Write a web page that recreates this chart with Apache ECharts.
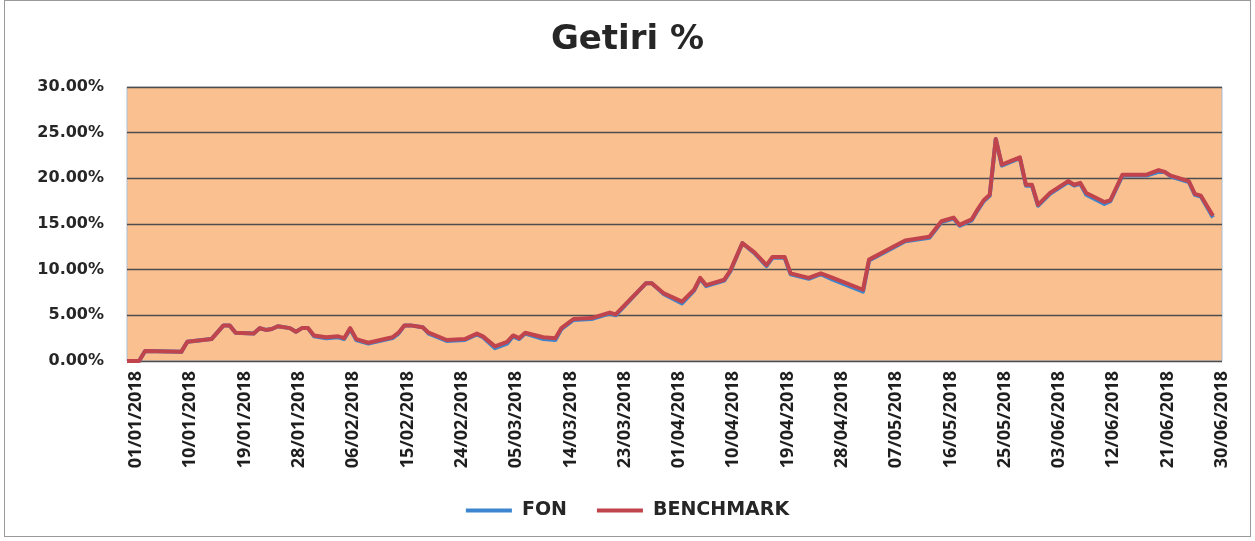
<!DOCTYPE html>
<html>
<head>
<meta charset="utf-8">
<script src="https://cdn.jsdelivr.net/npm/echarts@6/dist/echarts.min.js"></script>
<style>
html,body{margin:0;padding:0;background:#fff;}
#wrap{position:relative;width:1255px;height:541px;}
#chart{position:absolute;left:0;top:0;width:1255px;height:541px;}
#frame{position:absolute;left:4px;top:0px;width:1245px;height:535px;border:1.5px solid #9a9a9a;pointer-events:none;}
</style>
</head>
<body>
<div id="wrap"><div id="chart"></div><div id="frame"></div></div>
<script>
// Read points (dates) and values in percent
var dates = ['01/01/2018','03/01/2018','04/01/2018','10/01/2018','11/01/2018','15/01/2018','17/01/2018','18/01/2018','19/01/2018','22/01/2018','23/01/2018','24/01/2018','25/01/2018','26/01/2018','28/01/2018','29/01/2018','30/01/2018','31/01/2018','01/02/2018','03/02/2018','05/02/2018','06/02/2018','07/02/2018','08/02/2018','10/02/2018','12/02/2018','14/02/2018','15/02/2018','16/02/2018','17/02/2018','19/02/2018','20/02/2018','23/02/2018','26/02/2018','28/02/2018','01/03/2018','03/03/2018','05/03/2018','06/03/2018','07/03/2018','08/03/2018','11/03/2018','13/03/2018','14/03/2018','16/03/2018','19/03/2018','22/03/2018','23/03/2018','28/03/2018','29/03/2018','31/03/2018','03/04/2018','05/04/2018','06/04/2018','07/04/2018','10/04/2018','11/04/2018','13/04/2018','15/04/2018','17/04/2018','18/04/2018','20/04/2018','21/04/2018','24/04/2018','26/04/2018','28/04/2018','03/05/2018','04/05/2018','08/05/2018','10/05/2018','14/05/2018','16/05/2018','18/05/2018','19/05/2018','21/05/2018','22/05/2018','23/05/2018','24/05/2018','25/05/2018','26/05/2018','29/05/2018','30/05/2018','31/05/2018','01/06/2018','03/06/2018','06/06/2018','07/06/2018','08/06/2018','09/06/2018','12/06/2018','13/06/2018','15/06/2018','19/06/2018','21/06/2018','22/06/2018','23/06/2018','26/06/2018','27/06/2018','28/06/2018','30/06/2018'];
var benchmark = [0.0,0.0,1.1,1.0,2.1,2.4,3.9,3.9,3.1,3.0,3.6,3.4,3.5,3.8,3.6,3.2,3.6,3.6,2.8,2.6,2.7,2.5,3.6,2.4,2.0,2.3,2.6,3.1,3.9,3.9,3.7,3.1,2.3,2.4,3.0,2.7,1.6,2.1,2.8,2.5,3.1,2.6,2.5,3.6,4.6,4.7,5.3,5.1,8.5,8.5,7.4,6.5,7.8,9.1,8.3,8.9,9.9,12.9,11.9,10.5,11.4,11.4,9.6,9.1,9.6,9.1,7.8,11.1,12.5,13.2,13.6,15.3,15.7,14.9,15.5,16.6,17.6,18.2,24.3,21.5,22.3,19.3,19.3,17.1,18.4,19.7,19.3,19.5,18.4,17.4,17.6,20.4,20.4,20.9,20.7,20.3,19.7,18.3,18.1,15.9];
var fon = [0.0,0.0,1.1,1.0,2.1,2.4,3.9,3.9,3.1,3.0,3.6,3.4,3.5,3.8,3.6,3.2,3.6,3.6,2.7,2.5,2.6,2.4,3.5,2.3,1.9,2.2,2.5,3.0,3.9,3.9,3.7,3.0,2.2,2.3,2.9,2.6,1.4,1.9,2.7,2.4,3.0,2.4,2.3,3.5,4.5,4.6,5.2,5.0,8.5,8.5,7.3,6.3,7.7,9.0,8.2,8.8,9.8,12.9,11.8,10.4,11.3,11.3,9.5,9.0,9.5,8.9,7.6,11.0,12.4,13.1,13.5,15.2,15.6,14.8,15.4,16.5,17.5,18.1,24.3,21.4,22.2,19.2,19.2,17.0,18.3,19.6,19.2,19.4,18.2,17.2,17.5,20.3,20.3,20.7,20.7,20.2,19.6,18.2,18.0,15.7];
var yTicks = [0,5,10,15,20,25,30];
var legendNames = ['FON','BENCHMARK'];

var DAY = 86400000;
var START = Date.UTC(2018,0,1);
function dayIndex(s){var p=s.split('/');return Math.round((Date.UTC(+p[2],+p[1]-1,+p[0])-START)/DAY);}
function pad(n){return (n<10?'0':'')+n;}
function dayLabel(i){var d=new Date(START+i*DAY);return pad(d.getUTCDate())+'/'+pad(d.getUTCMonth()+1)+'/'+d.getUTCFullYear();}
function pairs(vals){return dates.map(function(s,i){return [dayIndex(s),vals[i]];});}

var chart = echarts.init(document.getElementById('chart'));
chart.setOption({
  animation:false,
  backgroundColor:'#ffffff',
  title:{text:'Getiri %',left:'center',top:18,textStyle:{fontFamily:'DejaVu Sans',fontWeight:'bold',fontSize:34,color:'#262626'}},
  legend:{data:legendNames,top:496,left:'center',icon:'rect',itemWidth:46,itemHeight:4,itemGap:30,
    textStyle:{fontFamily:'DejaVu Sans',fontWeight:'bold',fontSize:19,color:'#262626',padding:[0,0,0,5]}},
  grid:{left:127,right:33,top:87,bottom:180,show:true,backgroundColor:'#FAC090',borderColor:'#A9BCD3',borderWidth:1},
  xAxis:{type:'value',min:0,max:181.5,interval:9,
    axisLine:{show:false},axisTick:{show:false},splitLine:{show:false},
    axisLabel:{rotate:90,showMaxLabel:false,margin:10,verticalAlign:'top',
      fontFamily:'Open Sans',fontWeight:'bold',fontSize:18,color:'#1e1e1e',
      formatter:function(v){return dayLabel(v);}}},
  yAxis:{type:'value',min:yTicks[0],max:yTicks[yTicks.length-1],interval:5,
    axisLine:{show:false},axisTick:{show:false},
    splitLine:{show:true,lineStyle:{color:'#4d4d4d',width:1.3}},
    axisLabel:{margin:23,fontFamily:'DejaVu Sans',fontWeight:'bold',fontSize:16,color:'#262626',
      formatter:function(v){return v.toFixed(2)+'%';}}},
  series:[
    {name:legendNames[0],type:'line',data:pairs(fon),showSymbol:false,symbol:'none',
      lineStyle:{width:4,color:'#3D86CF',join:'round'},itemStyle:{color:'#3D86CF'}},
    {name:legendNames[1],type:'line',data:pairs(benchmark),showSymbol:false,symbol:'none',
      lineStyle:{width:4,color:'#C1444D',join:'round'},itemStyle:{color:'#C1444D'}}
  ]
});
</script>
</body>
</html>
